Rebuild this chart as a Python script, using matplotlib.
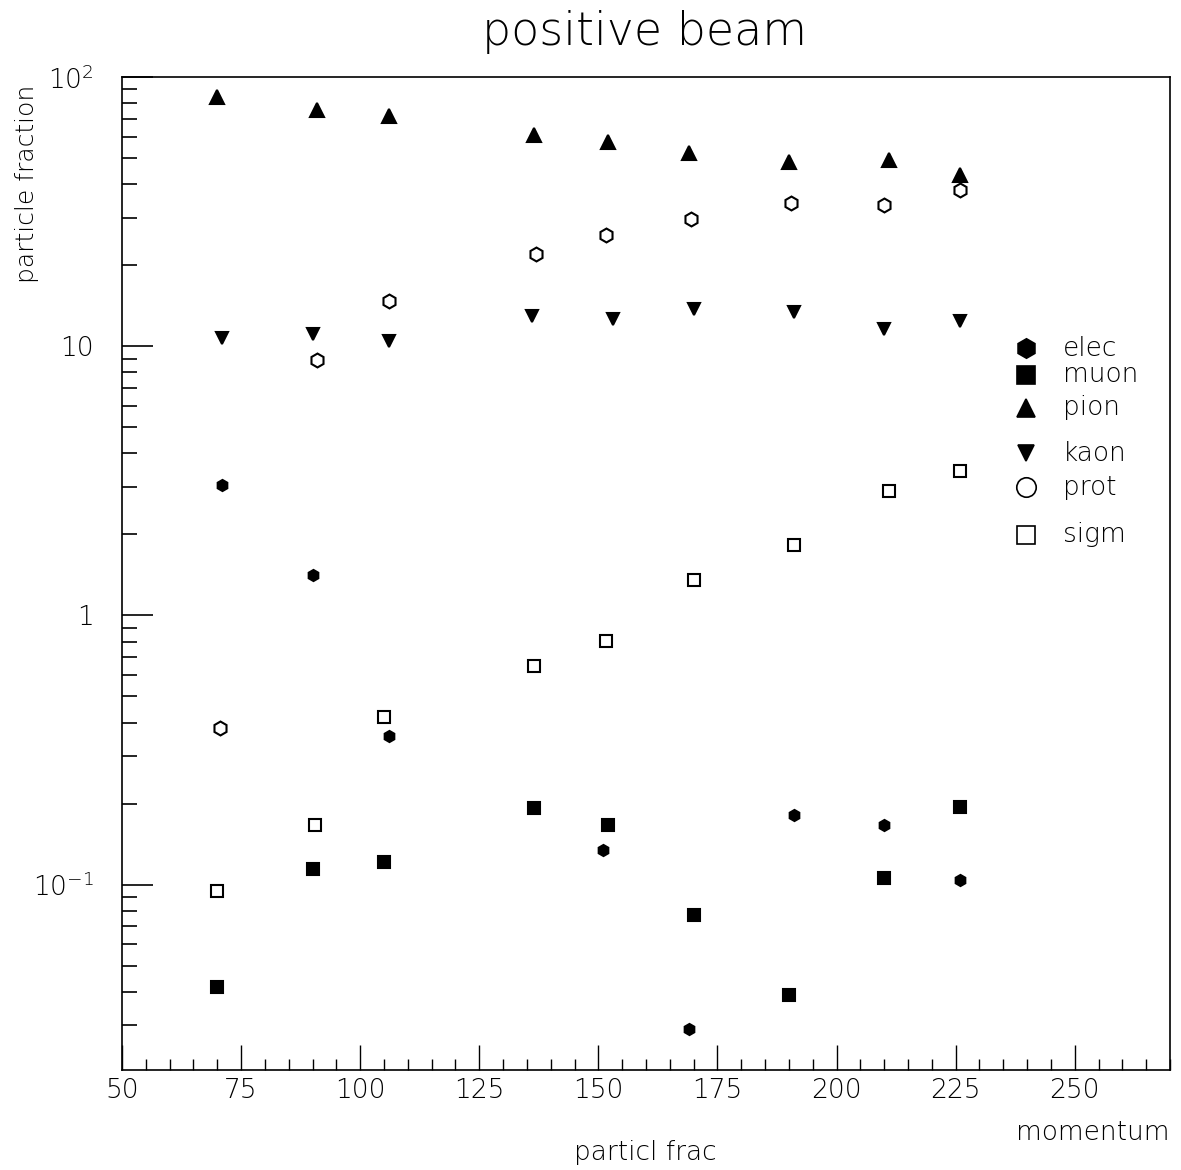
import matplotlib
matplotlib.use("Agg")
import matplotlib.pyplot as plt
from matplotlib.ticker import FixedLocator, FixedFormatter, MultipleLocator, LogLocator, NullFormatter

plt.rcParams['font.family'] = ['DejaVu Sans']
plt.rcParams['font.weight'] = 'light'
plt.rcParams['mathtext.default'] = 'regular'

# ---- data ----
labels = ["elec", "muon", "pion", "kaon", "prot", "sigm"]

elec_x = [71, 90, 106, 151, 169, 191, 210, 226]
elec_y = [3.06, 1.41, 0.357, 0.134, 0.029, 0.182, 0.167, 0.104]

muon_x = [70, 90, 105, 136.5, 152, 170, 190, 210, 226]
muon_y = [0.0416, 0.114, 0.121, 0.192, 0.167, 0.0773, 0.039, 0.106, 0.195]

pion_x = [70, 91, 106, 136.5, 152, 169, 190, 211, 226]
pion_y = [84.2, 75.3, 71.5, 60.8, 57.2, 52.0, 48.2, 49.0, 43.1]

kaon_x = [71, 90, 106, 136, 153, 170, 191, 210, 226]
kaon_y = [10.7, 11.1, 10.5, 12.9, 12.6, 13.7, 13.4, 11.6, 12.4]

prot_x = [70.5, 91, 106, 137, 151.5, 169.5, 190.5, 210, 226]
prot_y = [0.382, 8.87, 14.7, 22.0, 25.9, 29.8, 33.9, 33.6, 37.9]

sigm_x = [70, 90.5, 105, 136.5, 151.5, 170, 191, 211, 226]
sigm_y = [0.095, 0.166, 0.42, 0.65, 0.807, 1.35, 1.82, 2.90, 3.45]

ytick_vals = [0.1, 1, 10, 100]
ytick_labels = [r"$10^{-1}$", "1", "10", r"$10^{2}$"]
xtick_vals = [50, 75, 100, 125, 150, 175, 200, 225, 250]

fig = plt.figure(figsize=(11.81, 11.70), dpi=100)
ax = fig.add_axes([0.1033, 0.0855, 0.8874, 0.8487])

styles = [
    dict(x=elec_x, y=elec_y, marker='h', ms=8, mfc='black', mec='black'),
    dict(x=muon_x, y=muon_y, marker='s', ms=8, mfc='black', mec='black'),
    dict(x=pion_x, y=pion_y, marker='^', ms=10, mfc='black', mec='black'),
    dict(x=kaon_x, y=kaon_y, marker='v', ms=9, mfc='black', mec='black'),
    dict(x=prot_x, y=prot_y, marker='h', ms=10, mfc='white', mec='black'),
    dict(x=sigm_x, y=sigm_y, marker='s', ms=9, mfc='white', mec='black'),
]
for s in styles:
    ax.plot(s['x'], s['y'], linestyle='none', marker=s['marker'], markersize=s['ms'],
            markerfacecolor=s['mfc'], markeredgecolor=s['mec'], markeredgewidth=1.5)

ax.set_yscale('log')
ax.set_xlim(50, 270)
ax.set_ylim(0.0205, 100)

ax.xaxis.set_major_locator(FixedLocator(xtick_vals))
ax.xaxis.set_minor_locator(MultipleLocator(5))
ax.yaxis.set_major_locator(FixedLocator(ytick_vals))
ax.yaxis.set_major_formatter(FixedFormatter(ytick_labels))
ax.yaxis.set_minor_locator(LogLocator(base=10, subs=range(2, 10)))
ax.yaxis.set_minor_formatter(NullFormatter())

ax.tick_params(axis='both', which='both', direction='in', top=False, right=False)
ax.tick_params(axis='y', which='major', length=22, width=1.2, labelsize=19, pad=20)
ax.tick_params(axis='y', which='minor', length=11, width=1.2)
ax.tick_params(axis='x', which='major', length=18, width=1.0, labelsize=19, pad=6)
ax.tick_params(axis='x', which='minor', length=8, width=1.0)
for sp in ax.spines.values():
    sp.set_linewidth(1.2)

# legend (manual, uneven spacing as in the original)
leg_y = [0.727, 0.700, 0.667, 0.621, 0.587, 0.539]
leg_ms = [14, 13, 13, 12, 14, 13]
for i, s in enumerate(styles):
    ax.plot([0.863], [leg_y[i]], transform=ax.transAxes, linestyle='none',
            marker=('h' if i == 0 else ('o' if i == 4 else s['marker'])),
            markersize=leg_ms[i], markerfacecolor=s['mfc'], markeredgecolor='black',
            markeredgewidth=1.2, clip_on=False)
    ax.text(0.898, leg_y[i], labels[i], transform=ax.transAxes, fontsize=19,
            va='center', ha='left')

fig.text(0.546, 0.973, "positive beam", ha='center', va='center', fontsize=33)
fig.text(0.023, 0.843, "particle fraction", rotation=90, ha='center', va='center', fontsize=18)
fig.text(0.546, 0.015, "particl frac", ha='center', va='center', fontsize=19)
fig.text(0.925, 0.032, "momentum", ha='center', va='center', fontsize=19)

fig.savefig("out.png", dpi=100)
